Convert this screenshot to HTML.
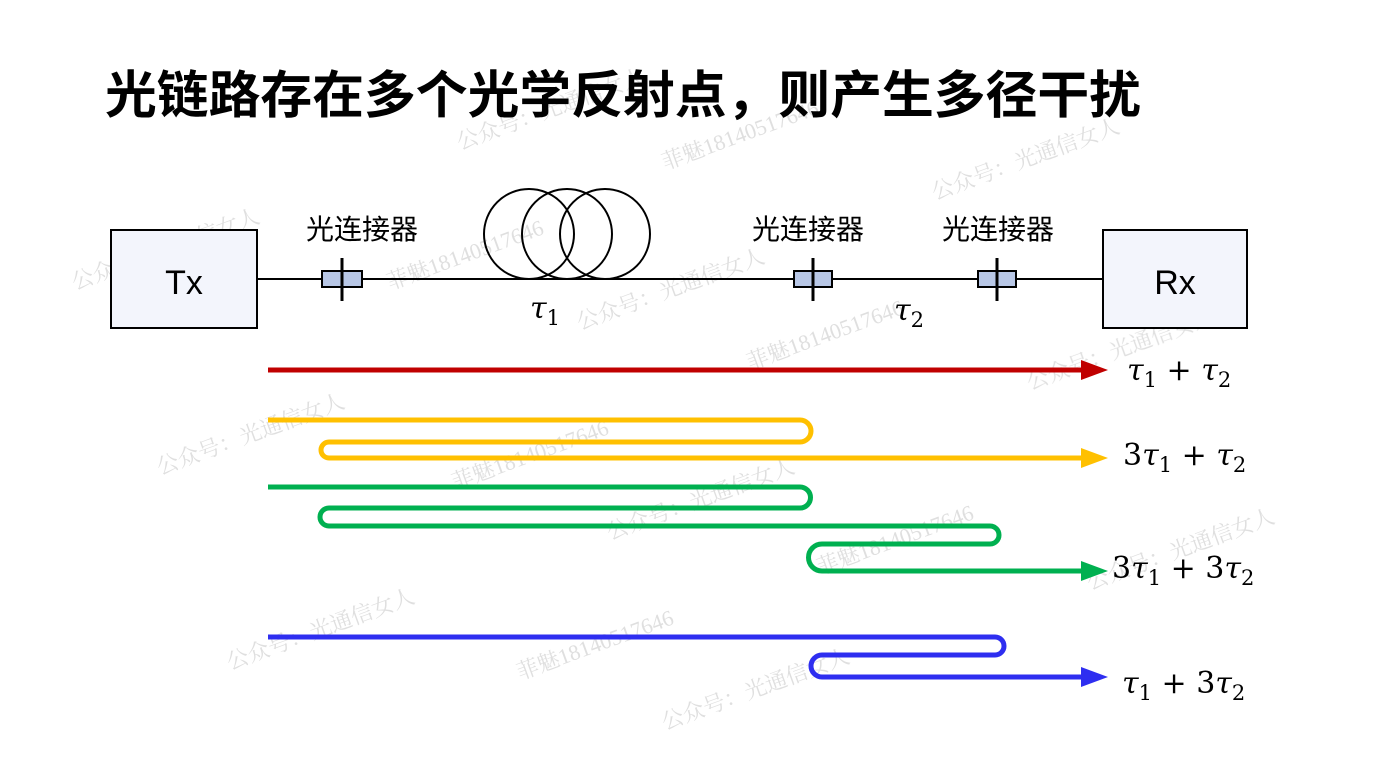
<!DOCTYPE html>
<html><head><meta charset="utf-8"><style>
html,body{margin:0;padding:0;background:#fff;}
body{width:1384px;height:779px;overflow:hidden;position:relative;}
</style></head><body>
<svg width="1384" height="779" viewBox="0 0 1384 779" xmlns="http://www.w3.org/2000/svg">
<g font-family="'Liberation Serif','Noto Serif CJK SC',serif" font-size="22" fill="#d8d8d8" opacity="0.8">
<text transform="translate(460,150) rotate(-20)">公众号：光通信女人</text>
<text transform="translate(665,170) rotate(-20)">菲魅18140517646</text>
<text transform="translate(935,200) rotate(-20)">公众号：光通信女人</text>
<text transform="translate(75,290) rotate(-20)">公众号：光通信女人</text>
<text transform="translate(390,290) rotate(-20)">菲魅18140517646</text>
<text transform="translate(580,330) rotate(-20)">公众号：光通信女人</text>
<text transform="translate(750,370) rotate(-20)">菲魅18140517646</text>
<text transform="translate(1030,390) rotate(-20)">公众号：光通信女人</text>
<text transform="translate(160,475) rotate(-20)">公众号：光通信女人</text>
<text transform="translate(455,490) rotate(-20)">菲魅18140517646</text>
<text transform="translate(610,540) rotate(-20)">公众号：光通信女人</text>
<text transform="translate(820,575) rotate(-20)">菲魅18140517646</text>
<text transform="translate(1090,590) rotate(-20)">公众号：光通信女人</text>
<text transform="translate(230,670) rotate(-20)">公众号：光通信女人</text>
<text transform="translate(520,680) rotate(-20)">菲魅18140517646</text>
<text transform="translate(665,730) rotate(-20)">公众号：光通信女人</text>
</g>
<text x="105" y="113" font-family="'Liberation Sans','Noto Sans CJK SC',sans-serif" font-size="51" font-weight="bold" fill="#000" textLength="1036" lengthAdjust="spacingAndGlyphs">光链路存在多个光学反射点，则产生多径干扰</text>
<line x1="257" y1="279" x2="1103" y2="279" stroke="#000" stroke-width="2"/>
<rect x="111" y="230" width="146" height="98" fill="#f3f5fc" stroke="#000" stroke-width="2"/>
<rect x="1103" y="230" width="144" height="98" fill="#f3f5fc" stroke="#000" stroke-width="2"/>
<text x="184" y="294" text-anchor="middle" font-family="'Liberation Sans',sans-serif" font-size="34">Tx</text>
<text x="1175" y="294" text-anchor="middle" font-family="'Liberation Sans',sans-serif" font-size="34">Rx</text>
<g fill="none" stroke="#000" stroke-width="2">
<circle cx="529" cy="234" r="45"/><circle cx="567" cy="234" r="45"/><circle cx="605" cy="234" r="45"/>
</g>
<g font-family="'Liberation Sans','Noto Sans CJK SC',sans-serif" font-size="28" text-anchor="middle">
<text x="362" y="239">光连接器</text><text x="808" y="239">光连接器</text><text x="998" y="239">光连接器</text>
</g>
<g stroke="#000" stroke-width="2">
<rect x="322" y="271" width="40" height="16" fill="#b8c7e6"/><line x1="342" y1="258" x2="342" y2="301" stroke-width="3"/>
<rect x="794" y="271" width="38" height="16" fill="#b8c7e6"/><line x1="813" y1="258" x2="813" y2="301" stroke-width="3"/>
<rect x="978" y="271" width="38" height="16" fill="#b8c7e6"/><line x1="997" y1="258" x2="997" y2="301" stroke-width="3"/>
</g>
<g font-family="'DejaVu Serif','Liberation Serif',serif" font-style="italic" font-size="30">
<text x="530" y="318">τ<tspan font-style="normal" font-size="21" dy="7">1</tspan></text>
<text x="894" y="320">τ<tspan font-style="normal" font-size="21" dy="7">2</tspan></text>
</g>
<g fill="none" stroke-width="5" stroke-linejoin="round">
<path d="M268 370 H1085" stroke="#c00000"/>
<path d="M268 420 H800 A11 11 0 0 1 800 442 H329 A8 8 0 0 0 329 458 H1085" stroke="#ffc000"/>
<path d="M268 487 H800 A10.5 10.5 0 0 1 800 508 H329 A9 9 0 0 0 329 526 H990 A9 9 0 0 1 990 544 H822 A13.5 13.5 0 0 0 822 571 H1085" stroke="#00b050"/>
<path d="M268 637 H995 A9 9 0 0 1 995 655 H822 A11 11 0 0 0 822 677 H1085" stroke="#2e2ef0"/>
</g>
<polygon points="1081,360 1108,370 1081,380" fill="#c00000"/>
<polygon points="1081,448 1108,458 1081,468" fill="#ffc000"/>
<polygon points="1081,561 1108,571 1081,581" fill="#00b050"/>
<polygon points="1081,667 1108,677 1081,687" fill="#2e2ef0"/>
<g font-family="'DejaVu Serif','Liberation Serif',serif" font-size="30">
<text x="1127" y="380"><tspan font-style="italic">τ</tspan><tspan font-size="21" dy="7">1</tspan><tspan dy="-7"> + </tspan><tspan font-style="italic">τ</tspan><tspan font-size="21" dy="7">2</tspan></text>
<text x="1123" y="465">3<tspan font-style="italic">τ</tspan><tspan font-size="21" dy="7">1</tspan><tspan dy="-7"> + </tspan><tspan font-style="italic">τ</tspan><tspan font-size="21" dy="7">2</tspan></text>
<text x="1112" y="578">3<tspan font-style="italic">τ</tspan><tspan font-size="21" dy="7">1</tspan><tspan dy="-7"> + 3</tspan><tspan font-style="italic">τ</tspan><tspan font-size="21" dy="7">2</tspan></text>
<text x="1122" y="693"><tspan font-style="italic">τ</tspan><tspan font-size="21" dy="7">1</tspan><tspan dy="-7"> + 3</tspan><tspan font-style="italic">τ</tspan><tspan font-size="21" dy="7">2</tspan></text>
</g>
</svg>
</body></html>
